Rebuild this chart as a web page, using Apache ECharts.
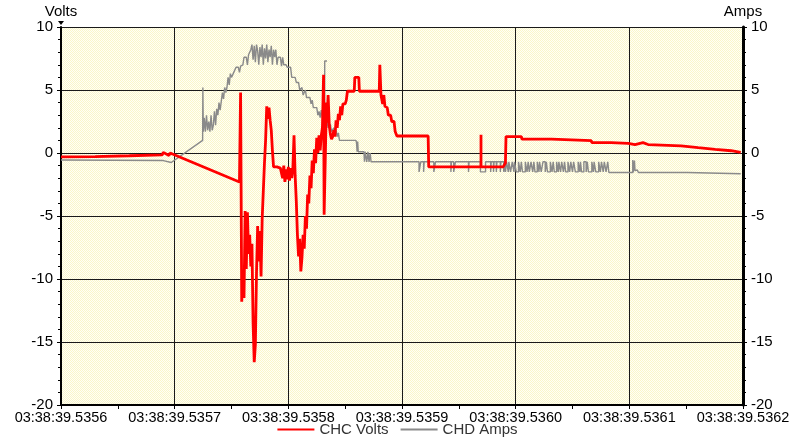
<!DOCTYPE html>
<html>
<head>
<meta charset="utf-8">
<script src="https://cdn.jsdelivr.net/npm/echarts@6/dist/echarts.min.js"></script>
<style>
  html, body { margin: 0; padding: 0; background: #fff; }
  #chart { width: 795px; height: 439px; }
</style>
</head>
<body>
<div id="chart"></div>
<script>
// Time axis: microseconds after 03:38:39.5356
const timeLabels = ['03:38:39.5356', '03:38:39.5357', '03:38:39.5358', '03:38:39.5359',
                    '03:38:39.5360', '03:38:39.5361', '03:38:39.5362'];
const seriesNames = ['CHC Volts', 'CHD Amps'];

// CHC Volts samples: [µs, volts]
const chcVolts = [
  [0,-0.3],[30,-0.28],[60,-0.22],[89,-0.15],[90,0.05],[95,-0.2],[96,0.0],[97,-0.15],[157,-2.3],
  [158,4.8],[159,-11.8],[160,-10.0],[161,-11.5],[162,-4.6],[163,-9.2],[164,-4.7],[165,-8.0],
  [166,-6.5],[167,-9.0],[168,-7.2],[169,-13.5],[170,-16.6],[171,-15.2],[172,-9.5],[173,-5.8],
  [174,-8.6],[175,-6.2],[176,-9.8],[177,-5.2],[178,-3.0],[179,-0.8],[180,1.0],[181,3.7],
  [182,2.7],[183,3.6],[184,2.6],[185,1.8],[186,0.2],[187,-1.1],[190,-1.1],[193,-1.2],
  [195,-2.0],[196,-1.0],[197,-2.3],[198,-1.3],[199,-2.1],[200,-1.1],[201,-2.2],[202,-1.2],
  [203,-2.0],[204,-1.2],[205,1.4],[206,-1.8],[207,-3.8],[208,-6.5],[209,-8.2],[210,-6.8],
  [211,-9.4],[212,-8.3],[213,-6.5],[214,-7.6],[215,-5.0],[216,-6.0],[217,-3.3],[218,-4.0],
  [219,-1.8],[220,-2.8],[221,-0.6],[222,-1.6],[223,0.3],[224,-0.8],[225,1.2],[226,0.0],
  [227,1.4],[228,0.2],[229,1.4],[230,2.0],[231,6.2],[231.5,-4.9],[233,-4.9],[233.5,4.0],
  [234,2.4],[235,4.6],[236,2.2],[237,1.5],[238,1.1],[239,1.3],[240,1.8],[241,1.3],[242,2.6],
  [243,2.0],[244,3.1],[245,2.6],[246,3.7],[247,3.0],[248,3.9],[250,3.9],[251,4.2],[252,4.9],
  [258,4.9],[258.5,6.0],[262,6.0],[262.5,4.9],[280,4.9],[280.5,7.0],[281.5,4.6],[283,3.9],
  [284,4.6],[285,3.7],[287,3.6],[288,3.0],[290,3.0],[291,2.5],[293,2.5],[294,1.7],[295.5,1.35],
  [323,1.35],[323.5,-1.1],[369.5,-1.1],[369.5,1.45],[368,1.45],[371,1.45],[369.5,1.45],
  [369.5,-1.1],[389,-1.1],[391,-0.8],[391.5,1.3],[405,1.3],[405.5,1.1],[431.5,1.1],[432,0.98],
  [466.5,0.98],[467,0.82],[484,0.82],[484.5,0.77],[499,0.77],[499.5,0.67],[505,0.67],
  [505.5,0.82],[512,0.82],[512.5,0.67],[516.5,0.67],[517,0.56],[545.5,0.56],[546,0.42],
  [560.5,0.42],[561,0.29],[575.5,0.29],[576,0.18],[589.5,0.18],[590,0.1],[598,0.05]
];

// CHD Amps samples: [µs, amps]
const chdAmps = [
  [0,-0.55],[90,-0.6],[91,-0.75],[97,-0.75],[97.5,-0.65],[98,-0.7],[124.6,1.0],[124.8,5.2],
  [125.2,1.7],[126,2.8],[127,1.7],[128,3.0],[129,1.8],[130,2.5],[131,1.7],[132,3.0],[133,1.8],
  [134,2.2],[135,3.3],[136,2.2],[137,3.5],[138,3.0],[139,4.0],[140,3.4],[141,4.1],[142,4.8],
  [143,4.3],[144,5.2],[145,4.8],[146,5.2],[147,6.0],[148,5.4],[149,6.3],[150,6.0],[152,6.4],
  [154,6.8],[156,6.8],[157,6.4],[158,6.9],[160,7.0],[161,7.6],[163,7.6],[164,7.0],[165,7.8],
  [167,8.2],[168,8.6],[169,7.4],[170,8.5],[171,7.2],[172,8.6],[173,8.1],[174,7.0],[175,8.4],
  [176,7.6],[177,8.6],[178,7.0],[179,8.3],[180,7.5],[181,8.6],[182,7.2],[183,8.2],[184,7.6],
  [185,8.5],[186,7.0],[187,8.2],[188,7.6],[189,8.2],[190,7.0],[191,7.6],[193,7.6],[194,6.9],
  [195,7.6],[196,7.0],[198,7.0],[199,6.8],[202,6.8],[203,6.0],[206,6.0],[207,5.6],[209,5.6],
  [210,5.0],[212,5.2],[213,4.6],[215,5.0],[216,4.4],[219,4.4],[220,3.9],[221,4.2],[222,3.6],
  [225,3.6],[226,3.0],[227,3.3],[228,2.8],[229,3.4],[230,2.8],[232,2.8],[232,7.3],[230.5,7.3],
  [234,7.3],[232,7.3],[232,2.6],[234,2.6],[235,2.0],[237,2.3],[238,1.7],[240,2.0],[241,1.4],
  [242,1.8],[243,1.3],[244,1.6],[245,1.0],[259.5,1.0],[260,0.8],[260.5,0.1],[261,0.9],
  [261.5,0.1],[266.5,0.1],[267,-0.7],[267.5,0.1],[268.5,0.1],[269,-0.7],[270,0.1],[271,-0.7],
  [272,0.0],[272.8,-0.7],[315,-0.7]
];

// Short drops of CHD Amps to its lower level: [start µs, end µs]
const ampsDrops = [
  [315,316.5],[319,319.5],[328,329.5],[343,343.5],[345.5,347],[358.5,359],[369,373.5],
  [378,378.5],[380.5,381],[383,383.5],[386.5,387],[389.5,390],
  [391,392],[393.5,394],[395.5,397],[398.5,399],[400.5,402.5],[404,405],[406,408.5],
  [410,411],[412,413.5],[415,416],[417,419],[420.5,421],[422.5,424],[426,427],[428,430.5],
  [432,433],[434,436],[437.5,438],[439.5,440.5],[442,443],[444,446],[447.5,448.5],[450,451],
  [452.5,455],[456.5,457],[458,460],[462,463],[464,467],[468.5,469],[470.5,473],[474.5,475.5],
  [477,478],[479.5,481]
];
const ampsHigh = -0.7, ampsLow = -1.5;

// Tail of CHD Amps after the toggling section
const chdAmpsTail = [
  [482,-1.55],[503,-1.55],[503,-0.55],[503.5,-0.55],[503.5,-1.55],[504.5,-1.55],[504.5,-0.6],
  [505,-0.6],[505,-1.4],[506,-1.55],[507,-1.35],[508,-1.55],[509,-1.4],[510,-1.55],
  [551,-1.55],[552,-1.65],[598,-1.65]
];

const ampsData = chdAmps.slice();
ampsDrops.forEach(([a, b]) => {
  ampsData.push([a, ampsHigh], [a, ampsLow], [b, ampsLow], [b, ampsHigh]);
});
ampsData.push([481.5, ampsHigh]);
chdAmpsTail.forEach(p => ampsData.push(p));

// Cross-hatched pale-yellow plot background
const tile = document.createElement('canvas');
tile.width = 4; tile.height = 4;
const tc = tile.getContext('2d');
tc.fillStyle = '#FFFFF6';
tc.fillRect(0, 0, 4, 4);
tc.fillStyle = '#FAF6CA';
[[0,0],[2,0],[1,1],[3,1],[0,2],[2,2],[1,3],[3,3]].forEach(([x, y]) => tc.fillRect(x, y, 1, 1));

const font = 'Liberation Sans, Arial, sans-serif';
const chart = echarts.init(document.getElementById('chart'), null, { renderer: 'canvas' });

function yAxisCfg(name, pos) {
  return {
    type: 'value', position: pos, name: name, min: -20, max: 10, interval: 5,
    nameGap: 4,
    nameTextStyle: { color: '#000', fontFamily: font, fontSize: 15, align: 'center' },
    axisLine: { show: true, onZero: false, lineStyle: { color: '#000', width: pos === 'left' ? 2 : 3 } },
    axisTick: { show: true, inside: false, length: 4, lineStyle: { color: '#000', width: 1 } },
    minorTick: { show: true, splitNumber: 5, length: 3, lineStyle: { color: '#000', width: 1 } },
    axisLabel: { color: '#000', fontFamily: font, fontSize: 15, margin: 8 },
    splitLine: { show: pos === 'left', lineStyle: { color: '#1a1a1a', width: 1 } }
  };
}

chart.setOption({
  animation: false,
  backgroundColor: '#fff',
  grid: {
    left: 61, right: 52, top: 27, bottom: 34, show: true,
    backgroundColor: { image: tile, repeat: 'repeat' }, borderWidth: 0
  },
  legend: {
    data: seriesNames, top: 422, left: 'center', icon: 'rect', itemWidth: 37, itemHeight: 2,
    itemGap: 12, padding: 0, textStyle: { color: '#333', fontFamily: font, fontSize: 15 }
  },
  xAxis: {
    type: 'value', min: 0, max: 600, interval: 100,
    axisLine: { onZero: false, lineStyle: { color: '#000', width: 2 } },
    axisTick: { show: true, length: 4, lineStyle: { color: '#000' } },
    minorTick: { show: true, splitNumber: 2, length: 4, lineStyle: { color: '#000' } },
    axisLabel: { color: '#000', fontFamily: font, fontSize: 14.5, margin: 5,
      formatter: v => timeLabels[Math.round(v / 100)] },
    splitLine: { show: true, lineStyle: { color: '#1a1a1a', width: 1 } }
  },
  yAxis: [yAxisCfg('Volts', 'left'), yAxisCfg('Amps', 'right')],
  graphic: [{
    type: 'polygon', z: 100,
    shape: { points: [[58, 21], [64, 21], [61, 25]] },
    style: { fill: '#000' }
  }],
  series: [
    {
      name: seriesNames[1], type: 'line', yAxisIndex: 1, data: ampsData, showSymbol: false,
      symbol: 'none', lineStyle: { color: '#8a8a8a', width: 1.4 }, itemStyle: { color: '#8a8a8a' },
      z: 2
    },
    {
      name: seriesNames[0], type: 'line', yAxisIndex: 0, data: chcVolts, showSymbol: false,
      symbol: 'none', lineStyle: { color: '#ff0000', width: 2.8 }, itemStyle: { color: '#ff0000' },
      z: 3
    }
  ]
});
</script>
</body>
</html>
